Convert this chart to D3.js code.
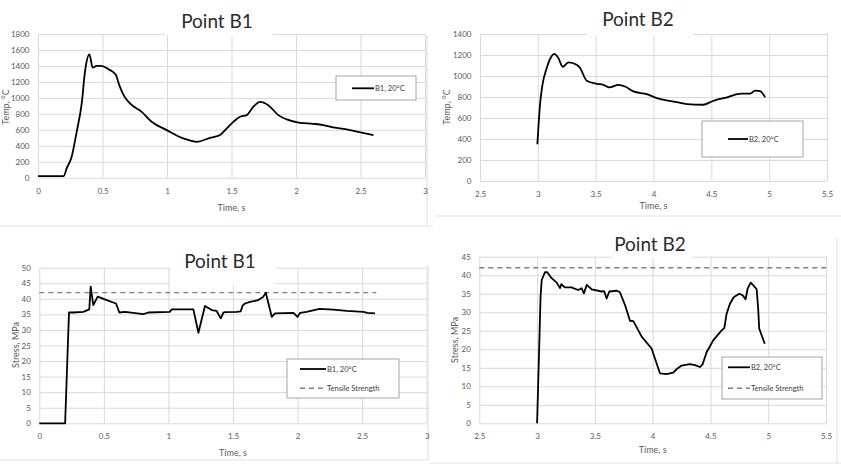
<!DOCTYPE html>
<html><head><meta charset="utf-8">
<script src="https://cdn.jsdelivr.net/npm/d3@7"></script>
<style>
html,body{margin:0;padding:0;background:#fff;}
svg{display:block;}
text{font-family:Lato,"Open Sans",sans-serif;}
</style></head>
<body>
<svg id="chart" width="841" height="466"></svg>
<script>
// ---------- DATA ----------
const xTicksB1 = [0, 0.5, 1, 1.5, 2, 2.5, 3];
const xTicksB2 = [2.5, 3, 3.5, 4, 4.5, 5, 5.5];
const tempTicksB1 = [0, 200, 400, 600, 800, 1000, 1200, 1400, 1600, 1800];
const tempTicksB2 = [0, 200, 400, 600, 800, 1000, 1200, 1400];
const stressTicksB1 = [0, 5, 10, 15, 20, 25, 30, 35, 40, 45, 50];
const stressTicksB2 = [0, 5, 10, 15, 20, 25, 30, 35, 40, 45];
const tensileStrength = 42;

const b1TempTime = [0, 0.2, 0.222, 0.261, 0.30, 0.339, 0.364, 0.398, 0.424, 0.455, 0.49, 0.545, 0.602, 0.63, 0.667, 0.713, 0.804, 0.881, 0.998, 1.126, 1.23, 1.333, 1.411, 1.45, 1.514, 1.566, 1.618, 1.669, 1.721, 1.785, 1.863, 1.928, 2.031, 2.134, 2.212, 2.276, 2.392, 2.50, 2.60];
const b1TempVal  = [20, 20, 117, 263, 575, 930, 1325, 1543, 1380, 1400, 1400, 1360, 1292, 1160, 1025, 930, 825, 700, 596, 492, 450, 500, 534, 596, 700, 763, 784, 888, 950, 909, 784, 730, 688, 675, 659, 634, 605, 567, 534];

const b2TempTime = [2.996, 3.02, 3.04, 3.077, 3.11, 3.143, 3.177, 3.215, 3.264, 3.336, 3.365, 3.423, 3.51, 3.567, 3.619, 3.697, 3.754, 3.826, 3.942, 4.029, 4.115, 4.2, 4.288, 4.43, 4.504, 4.55, 4.62, 4.707, 4.764, 4.836, 4.879, 4.922, 4.965];
const b2TempVal  = [350, 742, 916, 1076, 1171, 1210, 1171, 1088, 1130, 1107, 1076, 955, 926, 916, 891, 916, 900, 853, 827, 789, 767, 751, 732, 726, 757, 775, 791, 823, 833, 833, 861, 855, 797];

const b1StressTime = [0, 0.2, 0.23, 0.264, 0.341, 0.387, 0.398, 0.418, 0.452, 0.522, 0.594, 0.62, 0.664, 0.806, 0.845, 1.01, 1.026, 1.193, 1.232, 1.283, 1.335, 1.373, 1.405, 1.426, 1.438, 1.529, 1.56, 1.575, 1.593, 1.632, 1.696, 1.735, 1.754, 1.787, 1.8, 1.826, 1.968, 2.0, 2.02, 2.07, 2.17, 2.277, 2.38, 2.51, 2.54, 2.6];
const b1StressVal  = [0, 0, 35.6, 35.6, 35.8, 36.6, 43.9, 38, 40.7, 39.6, 38.5, 35.6, 35.8, 35.1, 35.6, 35.8, 36.6, 36.6, 29.1, 37.7, 36.4, 36.1, 33.7, 35.6, 35.7, 35.8, 36, 37.9, 38.5, 39, 39.6, 40.7, 42, 36.4, 34.2, 35.3, 35.5, 34.2, 35.5, 35.8, 36.8, 36.5, 36.1, 35.8, 35.5, 35.3];

const b2StressTime = [3.0, 3.02, 3.03, 3.04, 3.068, 3.088, 3.126, 3.17, 3.198, 3.21, 3.24, 3.297, 3.356, 3.385, 3.405, 3.43, 3.472, 3.559, 3.58, 3.602, 3.625, 3.689, 3.717, 3.76, 3.804, 3.833, 3.905, 3.991, 4.02, 4.063, 4.121, 4.178, 4.207, 4.25, 4.322, 4.366, 4.409, 4.433, 4.467, 4.524, 4.597, 4.62, 4.64, 4.669, 4.703, 4.75, 4.778, 4.804, 4.822, 4.848, 4.87, 4.9, 4.913, 4.922, 4.943, 4.97];
const b2StressVal  = [0, 22.5, 34.2, 38.7, 40.8, 40.8, 39.2, 38, 36.5, 37.6, 36.7, 36.7, 36, 36.5, 35.1, 37.4, 36.2, 35.6, 35.7, 33.7, 35.6, 35.8, 35.4, 32, 27.7, 27.6, 23.4, 20.2, 17.5, 13.5, 13.3, 13.7, 14.6, 15.6, 16, 15.7, 15.2, 16, 19.2, 22.4, 25.1, 25.7, 29.6, 32.3, 34.1, 35, 34.6, 33.5, 36.4, 38, 37.3, 36.2, 31, 25.6, 23.8, 21.5];

const titles = ["Point B1", "Point B2", "Point B1", "Point B2"];
const yLabels = ["Temp, \u00B0C", "Temp, \u00B0C", "Stress, MPa", "Stress, MPa"];
const xLabel = "Time, s";
const seriesNames = ["B1, 20\u00B0C", "B2, 20\u00B0C", "B1, 20\u00B0C", "B2, 20\u00B0C"];
const tensileName = "Tensile Strength";

// ---------- DRAW ----------
const svg = d3.select("#chart");
const GRID = "#d9d9d9", TICK = "#595959", BORDER = "#e3e3e3";

// chart-area borders (light)
const borders = [
  [[0,226],[433,226]], [[427,36],[427,226]],
  [[436,216],[841,216]],
  [[0,460],[430,460]], [[428,265],[428,460]],
  [[430,463],[841,463]], [[837,238],[837,463]]
];
borders.forEach(b => svg.append("line").attr("x1",b[0][0]).attr("y1",b[0][1]).attr("x2",b[1][0]).attr("y2",b[1][1]).attr("stroke",BORDER).attr("stroke-width",1.2));

const panels = [
  {x0:38, x1:425, yT:34, yB:177.7, xd:[0,3], yd:[0,1800], xt:xTicksB1, yt:tempTicksB1,
   t:b1TempTime, v:b1TempVal, tensile:null,
   title:[217,28.3], tbox:[165,2,108,33.5], ylab:[8.5,107], xlabY:211,
   leg:{x:336,y:76,w:80,h:24, l1y:88.3, lx0:352, lx1:374}},
  {x0:480, x1:827, yT:34, yB:181, xd:[2.5,5.5], yd:[0,1400], xt:xTicksB2, yt:tempTicksB2,
   t:b2TempTime, v:b2TempVal, tensile:null,
   title:[638,26], tbox:[587,2,106,33.5], ylab:[450,107], xlabY:209,
   leg:{x:702,y:121,w:101,h:36, l1y:139, lx0:728, lx1:748}},
  {x0:39.3, x1:426.7, yT:267.7, yB:423.3, xd:[0,3], yd:[0,50], xt:xTicksB1, yt:stressTicksB1,
   t:b1StressTime, v:b1StressVal, tensile:[0,2.61],
   title:[220,268.3], tbox:[170,240,105,45.5], ylab:[18.5,345], xlabY:456,
   leg:{x:287,y:359,w:112,h:39, l1y:369, l2y:388.3, lx0:300, lx1:326}},
  {x0:479.3, x1:826, yT:256.7, yB:423.3, xd:[2.5,5.5], yd:[0,45], xt:xTicksB2, yt:stressTicksB2,
   t:b2StressTime, v:b2StressVal, tensile:[2.5,5.5],
   title:[650,250.7], tbox:[612,232,80,26], ylab:[458,340], xlabY:453,
   leg:{x:722,y:357,w:100,h:42, l1y:367.3, l2y:388.3, lx0:728, lx1:750}}
];

panels.forEach((p, i) => {
  const g = svg.append("g");
  const x = d3.scaleLinear().domain(p.xd).range([p.x0, p.x1]);
  const y = d3.scaleLinear().domain(p.yd).range([p.yB, p.yT]);

  // gridlines
  g.append("g").attr("transform",`translate(0,${p.yB})`)
    .call(d3.axisBottom(x).tickValues(p.xt).tickSize(-(p.yB-p.yT)).tickFormat(""))
    .call(s => s.select(".domain").remove())
    .call(s => s.selectAll("line").attr("stroke",GRID).attr("stroke-width",1));
  g.append("g").attr("transform",`translate(${p.x0},0)`)
    .call(d3.axisLeft(y).tickValues(p.yt).tickSize(-(p.x1-p.x0)).tickFormat(""))
    .call(s => s.select(".domain").remove())
    .call(s => s.selectAll("line").attr("stroke",GRID).attr("stroke-width",1));

  // tick labels
  g.append("g").attr("transform",`translate(${p.x0},0)`)
    .call(d3.axisLeft(y).tickValues(p.yt).tickSize(0).tickPadding(8.5).tickFormat(d3.format("d")))
    .call(s => s.select(".domain").remove())
    .call(s => s.selectAll("text").attr("fill",TICK).attr("font-size",8).attr("font-family","Lato, sans-serif"));
  g.append("g").attr("transform",`translate(0,${p.yB})`)
    .call(d3.axisBottom(x).tickValues(p.xt).tickSize(0).tickPadding(10.5).tickFormat(d => String(d)))
    .call(s => s.select(".domain").remove())
    .call(s => s.selectAll("text").attr("fill",TICK).attr("font-size",8).attr("font-family","Lato, sans-serif"));

  // title background + title
  g.append("rect").attr("x",p.tbox[0]).attr("y",p.tbox[1]).attr("width",p.tbox[2]).attr("height",p.tbox[3]).attr("fill","#fff");
  g.append("text").attr("x",p.title[0]).attr("y",p.title[1]).attr("text-anchor","middle")
    .attr("font-size",19).attr("fill","#2b2b2b").text(titles[i]);

  // axis labels
  g.append("text").attr("x",(p.x0+p.x1)/2).attr("y",p.xlabY).attr("text-anchor","middle")
    .attr("font-size",9).attr("fill",TICK).text(xLabel);
  g.append("text").attr("transform",`translate(${p.ylab[0]},${p.ylab[1]}) rotate(-90)`).attr("text-anchor","middle")
    .attr("font-size",9).attr("fill",TICK).text(yLabels[i]);

  // tensile strength
  if (p.tensile) {
    g.append("line").attr("x1",x(p.tensile[0])).attr("x2",x(p.tensile[1]))
      .attr("y1",y(tensileStrength)).attr("y2",y(tensileStrength))
      .attr("stroke","#7f7f7f").attr("stroke-width",1.4).attr("stroke-dasharray","5,4");
  }

  // series line
  const data = p.t.map((t, k) => [t, p.v[k]]);
  g.append("path").datum(data)
    .attr("fill","none").attr("stroke","#000").attr("stroke-width",1.8).attr("stroke-linejoin","round")
    .attr("d", d3.line().x(d => x(d[0])).y(d => y(d[1])).curve(i < 2 ? d3.curveMonotoneX : d3.curveLinear));

  // legend
  const L = p.leg;
  g.append("rect").attr("x",L.x).attr("y",L.y).attr("width",L.w).attr("height",L.h)
    .attr("fill","#fff").attr("stroke","#a6a6a6").attr("stroke-width",1);
  g.append("line").attr("x1",L.lx0).attr("x2",L.lx1).attr("y1",L.l1y).attr("y2",L.l1y)
    .attr("stroke","#000").attr("stroke-width",1.8);
  g.append("text").attr("x",L.lx1+1).attr("y",L.l1y+2.8).attr("font-size",7.5).attr("fill","#404040").text(seriesNames[i]);
  if (L.l2y) {
    g.append("line").attr("x1",L.lx0).attr("x2",L.lx1).attr("y1",L.l2y).attr("y2",L.l2y)
      .attr("stroke","#7f7f7f").attr("stroke-width",1.4).attr("stroke-dasharray","5,4");
    g.append("text").attr("x",L.lx1+1).attr("y",L.l2y+2.8).attr("font-size",7.5).attr("fill","#404040").text(tensileName);
  }
});
</script>
</body></html>
